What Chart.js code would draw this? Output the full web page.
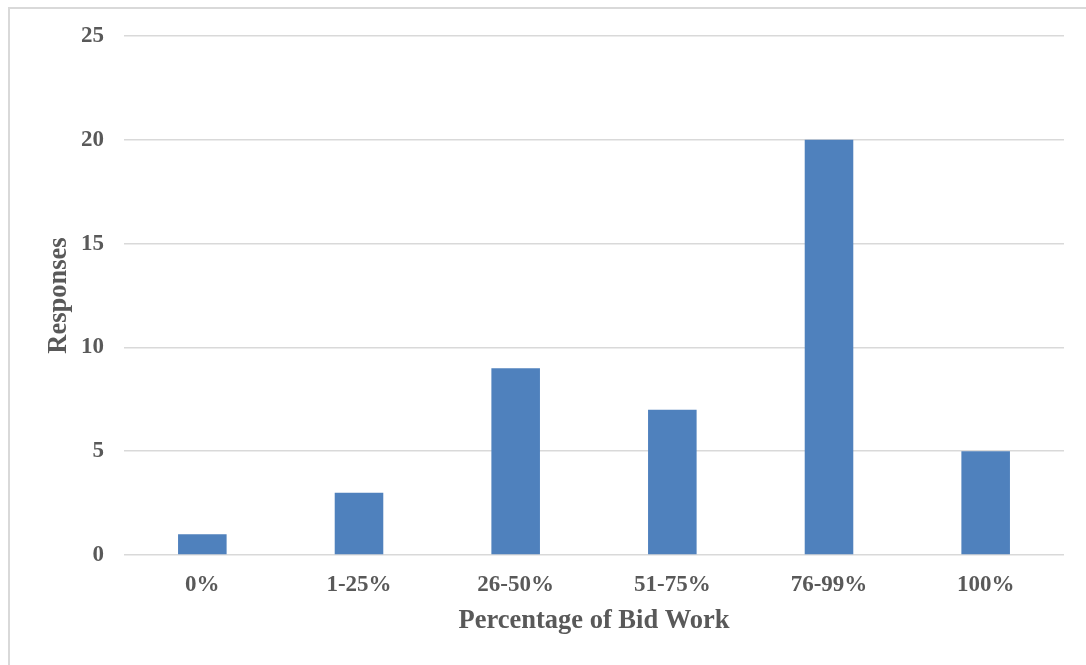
<!DOCTYPE html>
<html>
<head>
<meta charset="utf-8">
<script src="https://cdn.jsdelivr.net/npm/chart.js@4/dist/chart.umd.min.js"></script>
<style>
  html, body { margin: 0; padding: 0; background: #fff; }
  #frame {
    position: absolute; left: 8px; top: 7px; right: -4px; bottom: -4px;
    border: 2px solid #d9d9d9;
  }
  #wrap { position: absolute; left: 0; top: 0; width: 1086px; height: 665px; }
</style>
</head>
<body>
<div id="frame"></div>
<div id="wrap"><canvas id="bidChart" width="1086" height="665"></canvas></div>
<script>
// Share of work won through bids, grouped by range
const categories = ['0%', '1-25%', '26-50%', '51-75%', '76-99%', '100%'];
const responses = [1, 3, 9, 7, 20, 5];
const yTicks = [0, 5, 10, 15, 20, 25];

const textColor = '#595959';
const fontFamily = '"Liberation Serif", "Times New Roman", serif';

const ctx = document.getElementById('bidChart').getContext('2d');
new Chart(ctx, {
    type: 'bar',
    data: {
        labels: categories,
        datasets: [{
            label: 'Responses',
            data: responses,
            backgroundColor: '#4f81bd',
            borderWidth: 0,
            barPercentage: 0.31,
            categoryPercentage: 1.0
        }]
    },
    options: {
        responsive: false,
        animation: false,
        layout: { padding: { left: 0, top: 36, right: 22, bottom: 0 } },
        plugins: {
            legend: { display: false },
            tooltip: { enabled: false }
        },
        scales: {
            x: {
                grid: { display: false },
                border: { display: false },
                ticks: {
                    color: textColor,
                    padding: 8,
                    font: { family: fontFamily, size: 23, weight: 'bold' }
                },
                title: {
                    display: true,
                    text: 'Percentage of Bid Work',
                    color: textColor,
                    padding: { top: 0, bottom: 28 },
                    font: { family: fontFamily, size: 26.5, weight: 'bold' }
                },
                // fixed band height under the plot
                afterFit: function(scale) { scale.height = 110; }
            },
            y: {
                min: 0,
                max: 25,
                afterBuildTicks: function(scale) {
                    scale.ticks = yTicks.map(v => ({ value: v }));
                },
                grid: {
                    color: '#d9d9d9',
                    lineWidth: 1.5,
                    drawTicks: false
                },
                border: { display: false },
                ticks: {
                    color: textColor,
                    padding: 20,
                    font: { family: fontFamily, size: 23, weight: 'bold' }
                },
                title: {
                    display: true,
                    text: 'Responses',
                    color: textColor,
                    padding: { top: 43, bottom: 0 },
                    font: { family: fontFamily, size: 26.5, weight: 'bold' }
                },
                // fixed axis width so the plot starts at x=124
                afterFit: function(scale) { scale.width = 124; }
            }
        }
    }
});
</script>
</body>
</html>
